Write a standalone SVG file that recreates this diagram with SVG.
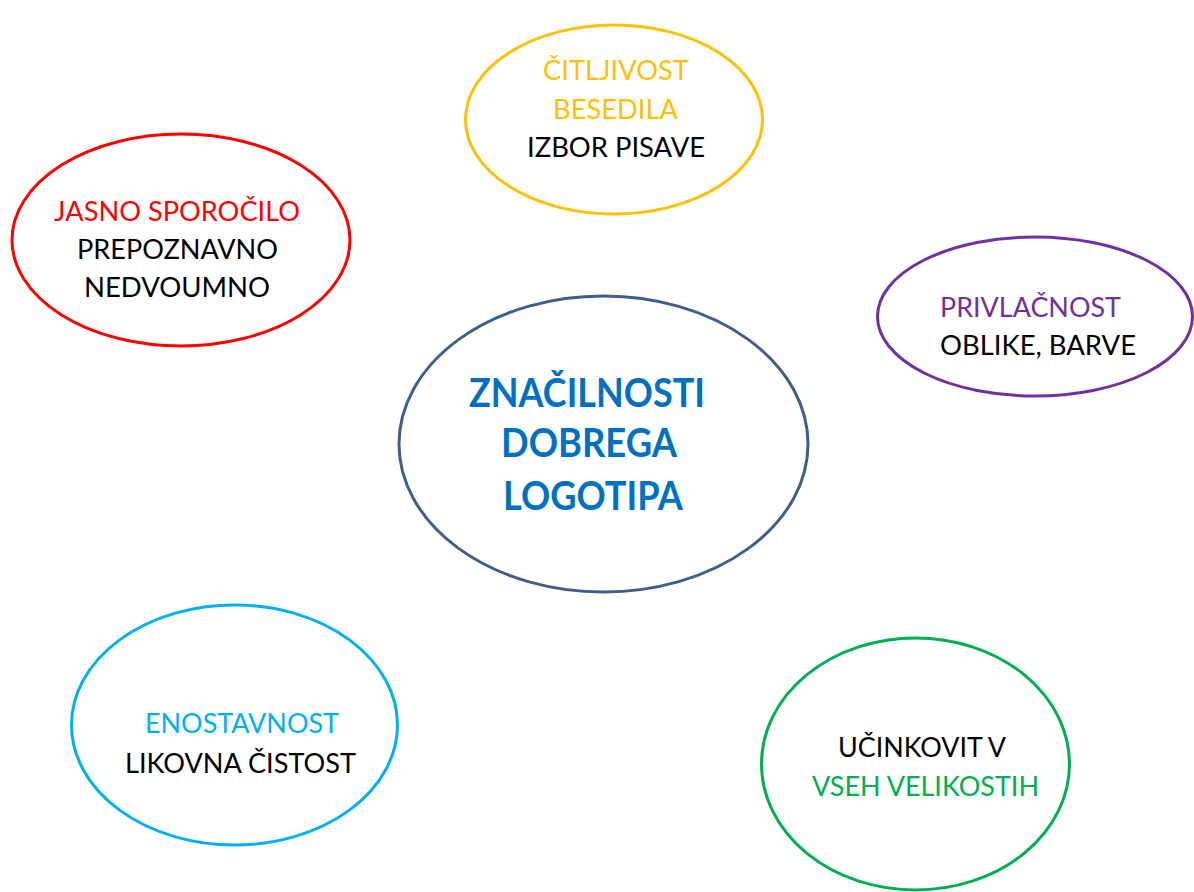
<svg xmlns="http://www.w3.org/2000/svg" width="1194" height="892" viewBox="0 0 1194 892">
<style>
.e{fill:#fff;stroke-width:3}
.t{font-family:Lato,"Liberation Sans",sans-serif;font-size:27px}
.b{font-family:Lato,"Liberation Sans",sans-serif;font-size:41px;font-weight:bold;fill:#0070C0}
.k{fill:#000}
</style>
<rect width="1194" height="892" fill="#fff"/>
<g id="connectors"></g>
<g id="n-citljivost">
<ellipse class="e" cx="614" cy="119.5" rx="148.5" ry="94.5" stroke="#FFC000"/>
<text class="t" x="543" y="80" fill="#FFC000" textLength="146" lengthAdjust="spacingAndGlyphs">ČITLJIVOST</text>
<text class="t" x="553" y="119" fill="#FFC000" textLength="125" lengthAdjust="spacingAndGlyphs">BESEDILA</text>
<text class="t k" x="527" y="157" textLength="178" lengthAdjust="spacingAndGlyphs">IZBOR PISAVE</text>
</g>
<g id="n-jasno">
<ellipse class="e" cx="181" cy="240" rx="169" ry="106" stroke="#FF0000"/>
<text class="t" x="54" y="221" fill="#FF0000" textLength="246" lengthAdjust="spacingAndGlyphs">JASNO SPOROČILO</text>
<text class="t k" x="77" y="259" textLength="201" lengthAdjust="spacingAndGlyphs">PREPOZNAVNO</text>
<text class="t k" x="84" y="297" textLength="186" lengthAdjust="spacingAndGlyphs">NEDVOUMNO</text>
</g>
<g id="n-privlacnost">
<ellipse class="e" cx="1035" cy="316.5" rx="157.5" ry="79.5" stroke="#7030A0"/>
<text class="t" x="940" y="317" fill="#7030A0" textLength="181" lengthAdjust="spacingAndGlyphs">PRIVLAČNOST</text>
<text class="t k" x="940" y="355" textLength="196" lengthAdjust="spacingAndGlyphs">OBLIKE, BARVE</text>
</g>
<g id="n-center">
<ellipse class="e" cx="603.5" cy="444" rx="204.5" ry="148" stroke="#3E5F8E"/>
<text class="b" x="469" y="407" textLength="236" lengthAdjust="spacingAndGlyphs">ZNAČILNOSTI</text>
<text class="b" x="501" y="457" textLength="176" lengthAdjust="spacingAndGlyphs">DOBREGA</text>
<text class="b" x="503" y="510" textLength="180" lengthAdjust="spacingAndGlyphs">LOGOTIPA</text>
</g>
<g id="n-enostavnost">
<ellipse class="e" cx="234.5" cy="725" rx="163" ry="120" stroke="#00B0F0"/>
<text class="t" x="145" y="733" fill="#00B0F0" textLength="194" lengthAdjust="spacingAndGlyphs">ENOSTAVNOST</text>
<text class="t k" x="125" y="773" textLength="231" lengthAdjust="spacingAndGlyphs">LIKOVNA ČISTOST</text>
</g>
<g id="n-ucinkovit">
<ellipse class="e" cx="915.5" cy="764" rx="154" ry="126" stroke="#00B050"/>
<text class="t k" x="838" y="757" textLength="168" lengthAdjust="spacingAndGlyphs">UČINKOVIT V</text>
<text class="t" x="812" y="796" fill="#00B050" textLength="227" lengthAdjust="spacingAndGlyphs">VSEH VELIKOSTIH</text>
</g>
</svg>
